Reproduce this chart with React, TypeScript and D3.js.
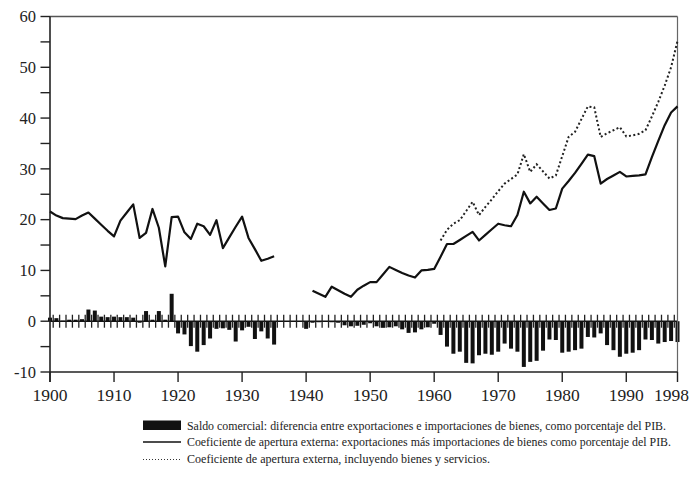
import React from 'react';
import * as d3 from 'd3';

const W = 694;
const H = 479;

// Saldo comercial (% PIB), one value per year from 1900; null = no data
const saldoStartYear = 1900;
const saldoValues: (number | null)[] = [
  0.7, 0.6, 0.1, 0.3, 0.3, 0.4, 2.3, 2.1, 0.9, 0.8,
  0.9, 0.8, 0.8, 0.7, -0.3, 2.0, 0.3, 2.0, 0.3, 5.4,
  -2.4, -2.6, -4.9, -6.0, -4.7, -3.4, -1.5, -1.4, -1.7, -4.0,
  -1.8, -1.1, -3.5, -2.0, -3.4, -4.6, null, null, null, null,
  -1.5, -0.3, -0.2, -0.1, -0.2, -0.3, -0.8, -1.0, -0.9, -0.7,
  -0.4, -1.0, -1.3, -1.2, -1.0, -1.6, -2.3, -2.2, -1.6, -1.2,
  -0.5, -2.7, -5.0, -6.4, -6.0, -8.2, -8.3, -6.7, -6.4, -6.6,
  -6.0, -4.4, -5.4, -6.0, -9.0, -8.0, -7.8, -5.8, -3.6, -3.7,
  -6.2, -6.0, -5.7, -5.4, -3.1, -3.2, -2.4, -4.7, -5.7, -7.0,
  -6.4, -6.2, -5.7, -3.6, -3.7, -4.4, -4.1, -3.9, -4.1,
];

// Coeficiente de apertura externa (bienes), 1900-1935
const bienesA_Start = 1900;
const bienesA: number[] = [
  21.6, 20.8, 20.3, 20.2, 20.1, 20.8, 21.4, 20.2, 19.0, 17.8,
  16.7, 19.8, 21.4, 23.0, 16.4, 17.4, 22.1, 18.4, 10.8, 20.5,
  20.6, 17.5, 16.2, 19.2, 18.7, 17.0, 19.9, 14.4, 16.5, 18.6,
  20.6, 16.4, 14.2, 11.9, 12.3, 12.8,
];

// Coeficiente de apertura externa (bienes), 1941-1998
const bienesB_Start = 1941;
const bienesB: number[] = [
  6.0, 5.4, 4.8, 6.8, 6.1, 5.4, 4.8, 6.2, 7.0, 7.7,
  7.7, 9.2, 10.7, 10.1, 9.5, 9.0, 8.6, 10.0, 10.1, 10.3,
  12.7, 15.2, 15.2, 16.0, 16.8, 17.6, 15.9, 17.0, 18.1, 19.2,
  18.9, 18.7, 20.9, 25.5, 23.2, 24.5, 23.2, 21.9, 22.2, 26.1,
  27.6, 29.2, 31.0, 32.8, 32.5, 27.1, 28.0, 28.7, 29.4, 28.5,
  28.6, 28.7, 28.9, 32.3, 35.5, 38.6, 41.1, 42.3,
];

// Coeficiente de apertura externa (bienes y servicios), 1961-1998
const totalStart = 1961;
const totalValues: number[] = [
  15.9, 18.0, 19.2, 19.9, 21.7, 23.5, 20.9, 22.5, 24.0, 25.6,
  27.1, 28.0, 28.9, 32.9, 29.4, 30.9, 29.5, 28.1, 28.7, 32.5,
  36.3, 37.3, 39.8, 42.3, 42.1, 36.3, 37.0, 37.6, 38.2, 36.4,
  36.6, 36.9, 37.6, 40.3, 43.2, 46.4, 50.0, 55.2,
];

const yTickValues = [-10, -5, 0, 5, 10, 15, 20, 25, 30, 35, 40, 45, 50, 55, 60];
const yLabelValues = [-10, 0, 10, 20, 30, 40, 50, 60];
const xTickYears = [1900, 1910, 1920, 1930, 1940, 1950, 1960, 1970, 1980, 1990, 1998];

const legendLabels = [
  'Saldo comercial: diferencia entre exportaciones e importaciones de bienes, como porcentaje del PIB.',
  'Coeficiente de apertura externa: exportaciones más importaciones de bienes como porcentaje del PIB.',
  'Coeficiente de apertura externa, incluyendo bienes y servicios.',
];

type Pt = { year: number; v: number | null };
const toPts = (start: number, vals: (number | null)[]): Pt[] =>
  vals.map((v, i) => ({ year: start + i, v }));

const FONT = '"Liberation Serif", "Times New Roman", serif';

export default function App() {
  const x = d3.scaleLinear().domain([1900, 1998]).range([50, 677.5]);
  const y = d3.scaleLinear().domain([-10, 60]).range([372, 16.5]);
  const y0 = y(0);

  const line = d3
    .line<Pt>()
    .defined((d) => d.v != null)
    .x((d) => x(d.year))
    .y((d) => y(d.v as number));

  const bars = toPts(saldoStartYear, saldoValues).filter((d) => d.v != null);
  const combYears = d3.range(1900, 1998).map((yr) => yr + 0.5);

  const left = x(1900);
  const right = x(1998);
  const top = y(60);
  const bottom = y(-10);
  const barW = 4;

  const xLabelPos = (yr: number) => (yr === 1998 ? x(yr) - 6 : x(yr));

  const legendX = 143;
  const legendW = 38;
  const textX = 187;

  return (
    <svg
      width={W}
      height={H}
      viewBox={`0 0 ${W} ${H}`}
      style={{ position: 'absolute', left: 0, top: 0, background: '#fff' }}
    >
      <rect x={0} y={0} width={W} height={H} fill="#fff" />

      {/* bars */}
      {bars.map((d) => {
        const yv = y(d.v as number);
        return (
          <rect
            key={'b' + d.year}
            x={x(d.year) - barW / 2}
            y={Math.min(yv, y0)}
            width={barW}
            height={Math.abs(yv - y0)}
            fill="#111"
          />
        );
      })}

      {/* zero line with comb */}
      <line x1={left} x2={right} y1={y0} y2={y0} stroke="#111" strokeWidth={1.6} />
      {combYears.map((yr) => (
        <line
          key={'c' + yr}
          x1={x(yr)}
          x2={x(yr)}
          y1={y0 - 6.5}
          y2={y0 + 6.5}
          stroke="#222"
          strokeWidth={1.3}
        />
      ))}

      {/* frame */}
      <line x1={left} x2={right} y1={top} y2={top} stroke="#555" strokeWidth={1.3} />
      <line x1={right} x2={right} y1={top} y2={bottom} stroke="#666" strokeWidth={1.2} />
      <line x1={left} x2={left} y1={top} y2={bottom + 10} stroke="#222" strokeWidth={1.6} />
      <line x1={left} x2={right} y1={bottom} y2={bottom} stroke="#222" strokeWidth={1.6} />

      {/* y ticks and labels */}
      {yTickValues.map((v) => (
        <line key={'yt' + v} x1={left - 9.5} x2={left} y1={y(v)} y2={y(v)} stroke="#222" strokeWidth={1.4} />
      ))}
      {yLabelValues.map((v) => (
        <text
          key={'yl' + v}
          x={36}
          y={y(v)}
          dy="0.35em"
          textAnchor="end"
          fontFamily={FONT}
          fontSize={16.5}
          fill="#222"
        >
          {v}
        </text>
      ))}

      {/* x ticks and labels */}
      {xTickYears.map((yr) => (
        <line key={'xt' + yr} x1={x(yr)} x2={x(yr)} y1={bottom} y2={bottom + 10} stroke="#222" strokeWidth={1.4} />
      ))}
      {xTickYears.map((yr) => (
        <text
          key={'xl' + yr}
          x={xLabelPos(yr)}
          y={401}
          textAnchor="middle"
          fontFamily={FONT}
          fontSize={17.5}
          fill="#222"
        >
          {yr}
        </text>
      ))}

      {/* lines */}
      <path d={line(toPts(bienesA_Start, bienesA)) || ''} fill="none" stroke="#111" strokeWidth={2.2} strokeLinejoin="round" />
      <path d={line(toPts(bienesB_Start, bienesB)) || ''} fill="none" stroke="#111" strokeWidth={2.2} strokeLinejoin="round" />
      <path
        d={line(toPts(totalStart, totalValues)) || ''}
        fill="none"
        stroke="#222"
        strokeWidth={2}
        strokeDasharray="2 2.4"
      />

      {/* legend */}
      <rect x={legendX} y={420.5} width={legendW} height={9.5} fill="#111" />
      <line x1={legendX} x2={legendX + legendW} y1={442} y2={442} stroke="#111" strokeWidth={1.6} />
      <line
        x1={legendX}
        x2={legendX + legendW}
        y1={459.5}
        y2={459.5}
        stroke="#333"
        strokeWidth={1.2}
        strokeDasharray="1 2"
      />
      {legendLabels.map((t, i) => (
        <text
          key={'lg' + i}
          x={textX}
          y={[429.5, 446, 463][i]}
          fontFamily={FONT}
          fontSize={12}
          fill="#222"
          textLength={[479, 484, 303][i]}
          lengthAdjust="spacingAndGlyphs"
        >
          {t}
        </text>
      ))}
    </svg>
  );
}
